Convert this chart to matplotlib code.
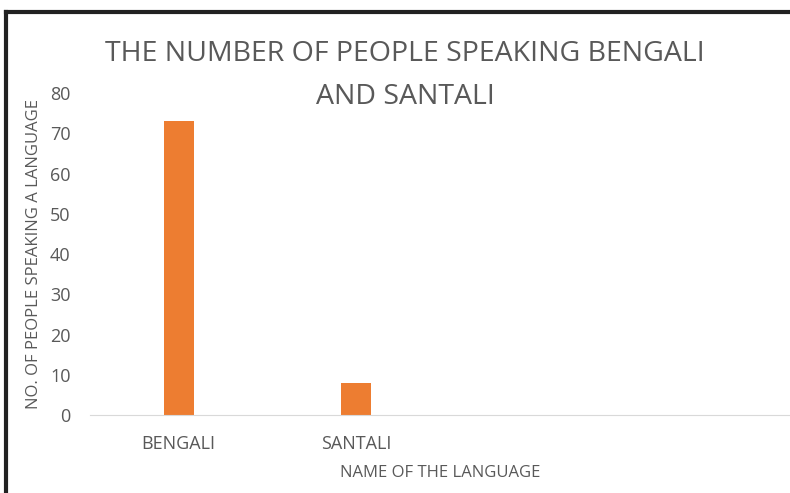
import matplotlib.pyplot as plt
from matplotlib.lines import Line2D

plt.rcParams['font.family'] = ['Open Sans', 'DejaVu Sans']

# data
languages = ['BENGALI', 'SANTALI', '', '']
speakers = [73, 8, 0, 0]
yticks = [0, 10, 20, 30, 40, 50, 60, 70, 80]

grey = '#595959'

fig = plt.figure(figsize=(7.9, 4.93), dpi=100)
ax = fig.add_axes([0.114, 0.158, 0.886, 0.653])

x = list(range(len(languages)))
ax.bar(x[:2], speakers[:2], width=0.17, color='#ed7d31')
ax.set_xlim(-0.5, 3.45)
ax.set_ylim(0, 80)
ax.set_yticks(yticks)
ax.set_xticks(x[:2])
ax.set_xticklabels(languages[:2])

for s in ['top', 'right', 'left']:
    ax.spines[s].set_visible(False)
ax.spines['bottom'].set_color('#d9d9d9')
ax.tick_params(axis='both', length=0, colors=grey, labelsize=13)
ax.tick_params(axis='x', pad=14)
ax.tick_params(axis='y', pad=14)

ax.set_xlabel('NAME OF THE LANGUAGE', color=grey, fontsize=12, labelpad=9)
ax.set_ylabel('NO. OF PEOPLE SPEAKING A LANGUAGE', color=grey, fontsize=12, labelpad=6)

fig.text(0.513, 0.89, 'THE NUMBER OF PEOPLE SPEAKING BENGALI', ha='center', va='center',
         fontsize=20.5, color=grey)
fig.text(0.513, 0.803, 'AND SANTALI', ha='center', va='center', fontsize=20.5, color=grey)

# outer frame
fig.add_artist(Line2D([0.007, 1.0], [0.976, 0.976], color='#222222', lw=3, transform=fig.transFigure))
fig.add_artist(Line2D([0.008, 0.008], [0.0, 0.976], color='#222222', lw=3, transform=fig.transFigure))

fig.savefig('out.png', dpi=100)
